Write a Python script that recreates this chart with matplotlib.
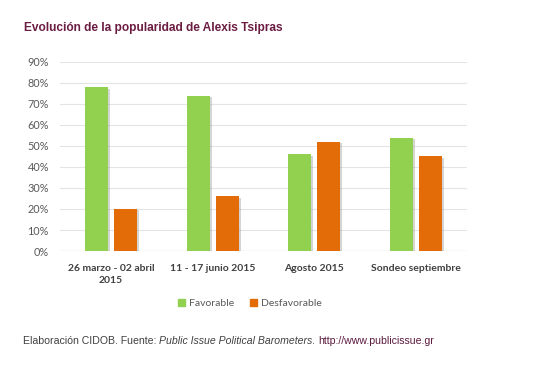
import matplotlib.pyplot as plt
import matplotlib.patheffects as pe
from matplotlib.patches import Patch
from matplotlib.ticker import PercentFormatter
import numpy as np

categories = ['26 marzo - 02 abril\n2015', '11 - 17 junio 2015', 'Agosto 2015', 'Sondeo septiembre']
favorable = [78, 74, 46, 54]
desfavorable = [20, 26, 52, 45]

green = '#92D050'
orange = '#E36C09'
title_color = '#6B1C42'

fig = plt.figure(figsize=(5.47, 3.65), dpi=100)
ax = fig.add_axes([0.1097, 0.3123, 0.744, 0.518])

x = np.arange(len(categories))
w = 0.225
off = 0.142
shadow = [pe.SimplePatchShadow(offset=(1.5, -1), shadow_rgbFace='#888888', alpha=0.35), pe.Normal()]
b1 = ax.bar(x - off, favorable, w, color=green, zorder=3)
b2 = ax.bar(x + off, desfavorable, w, color=orange, zorder=3)
for b in list(b1) + list(b2):
    b.set_path_effects(shadow)

ax.set_xlim(-0.5, 3.5)
ax.set_ylim(0, 90)
ax.set_yticks(range(0, 91, 10))
ax.yaxis.set_major_formatter(PercentFormatter(decimals=0))
ax.grid(axis='y', color='#E4E4E4', lw=0.8, zorder=0)
ax.axhline(0, color='#D9D9D9', lw=0.9, zorder=1)
for s in ax.spines.values():
    s.set_visible(False)
ax.tick_params(axis='both', length=0)
ax.tick_params(axis='y', pad=8, labelsize=7.8, labelcolor='#595959')
ax.set_xticks(x)
ax.set_xticklabels(categories, fontfamily='Lato', fontweight='bold', fontsize=7.5, color='#404040',
                   linespacing=1.5)
ax.tick_params(axis='x', pad=9)
for t in ax.get_yticklabels():
    t.set_fontfamily('Lato')

handles = [Patch(color=green, label='Favorable'), Patch(color=orange, label='Desfavorable')]
fig.legend(handles=handles, loc='center', bbox_to_anchor=(0.457, 0.168), ncol=2, frameon=False,
           handlelength=0.6, handleheight=0.6, handletextpad=0.4, columnspacing=1.6,
           prop={'family': 'Lato', 'size': 7.5}, labelcolor='#595959')

fig.text(0.044, 0.922, 'Evolución de la popularidad de Alexis Tsipras', fontfamily='Liberation Sans',
         fontweight='bold', fontsize=8.55, color=title_color, va='center')

# footer: chain the pieces so each starts where the previous one ends
foot = dict(fontfamily='Liberation Sans', fontsize=7.6, va='bottom', ha='left', annotation_clip=False)
t1 = fig.text(0.042, 0.052, 'Elaboración CIDOB. Fuente: ', fontfamily='Liberation Sans',
              fontsize=7.6, color='#404040', va='bottom')
a2 = ax.annotate('Public Issue Political Barometers', xy=(1, 0), xycoords=t1,
                 fontstyle='italic', color='#404040', **foot)
a3 = ax.annotate('. ', xy=(1, 0), xycoords=a2, color='#404040', **foot)
ax.annotate('http://www.publicissue.gr', xy=(1, 0), xycoords=a3, color='#5B1A3E', **foot)

fig.savefig('out.png', dpi=100)
